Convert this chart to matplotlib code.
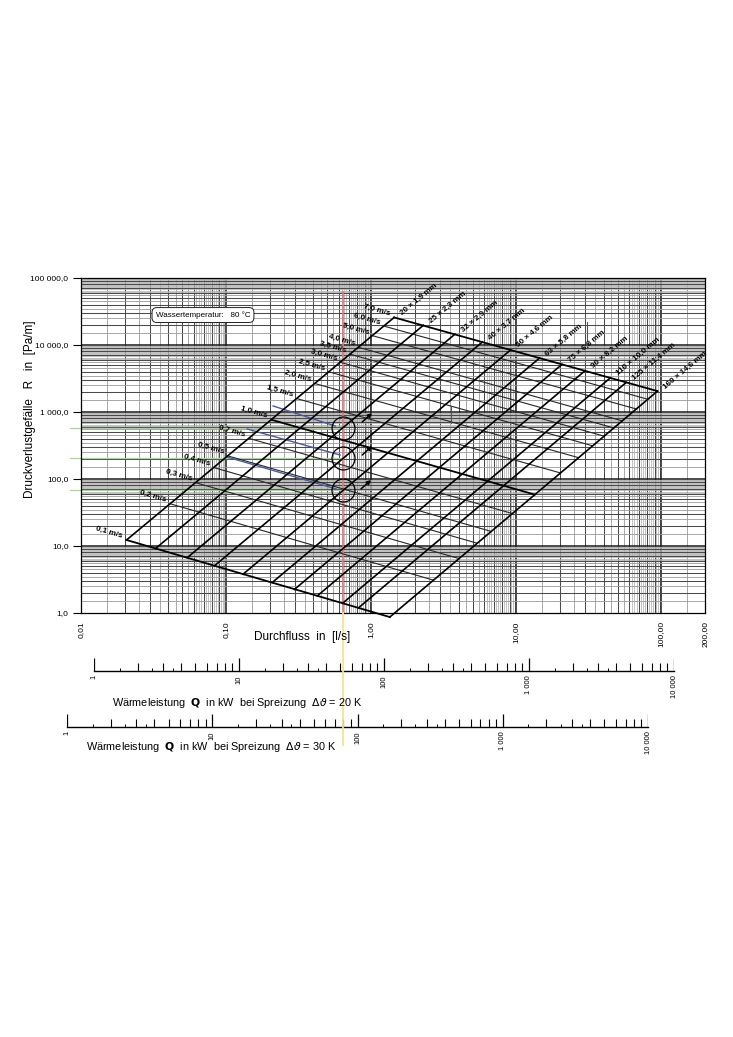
import numpy as np
import matplotlib.pyplot as plt

plt.rcParams['font.family'] = ['Liberation Sans', 'DejaVu Sans']

W, H = 733, 1037

# pipe sizes (PE) and where each pipe line meets 0,1 m/s (low end) and 7,0 m/s (high end)
pipe_labels = ["20 × 1,9 mm", "25 × 2,3 mm", "32 × 2,9 mm", "40 × 3,7 mm", "50 × 4,6 mm",
               "63 × 5,8 mm", "75 × 6,8 mm", "90 × 8,2 mm", "110 × 10,0 mm", "125 × 11,4 mm",
               "160 × 14,6 mm"]
pipe_q_lo = [0.0206, 0.0327, 0.054, 0.0835, 0.131, 0.208, 0.296, 0.425, 0.636, 0.82, 1.344]
pipe_r_lo = [12.3, 9.2, 6.7, 5.1, 3.8, 2.85, 2.25, 1.8, 1.4, 1.2, 0.87]
pipe_q_hi = [1.44, 2.29, 3.78, 5.85, 9.15, 14.5, 20.7, 29.8, 44.5, 57.4, 94.1]
pipe_r_hi = [25800, 19700, 14500, 11100, 8450, 6400, 5150, 4130, 3230, 2770, 2050]

# velocity lines, left end on 20 mm pipe, right end on 160 mm pipe
vel_labels = ["0,1 m/s", "0,2 m/s", "0,3 m/s", "0,4 m/s", "0,5 m/s", "0,7 m/s", "1,0 m/s",
              "1,5 m/s", "2,0 m/s", "2,5 m/s", "3,0 m/s", "3,5 m/s", "4,0 m/s", "5,0 m/s",
              "6,0 m/s", "7,0 m/s"]
vel_q_l = [0.0206, 0.0412, 0.0618, 0.0824, 0.103, 0.144, 0.206, 0.309, 0.412, 0.515,
           0.618, 0.721, 0.824, 1.03, 1.24, 1.44]
vel_r_l = [12.3, 42.7, 88, 148, 221, 404, 765, 1580, 2650, 3960, 5490, 7250, 9200,
           13700, 19000, 25800]
vel_q_r = [1.344, 2.69, 4.03, 5.38, 6.72, 9.41, 13.4, 20.2, 26.9, 33.6, 40.3, 47.0, 53.8,
           67.2, 80.6, 94.1]
vel_r_r = [0.87, 3.09, 6.5, 11.0, 16.5, 30.5, 58.6, 123, 208, 313, 436, 578, 738, 1110,
           1550, 2050]
vel_bold = ["0,1 m/s", "1,0 m/s", "7,0 m/s"]

# axis ticks
x_ticks = [0.01, 0.1, 1, 10, 100, 200]
x_ticklabels = ["0,01", "0,10", "1,00", "10,00", "100,00", "200,00"]
y_ticks = [1, 10, 100, 1000, 10000, 100000]
y_ticklabels = ["1,0", "10,0", "100,0", "1 000,0", "10 000,0", "100 000,0"]

# heat output scales
scale_major = [1, 10, 100, 1000, 10000]
scale_labels = ["1", "10", "100", "1 000", "10 000"]
scale_mid = [2, 3, 4, 5, 6, 7, 8, 9]
scale_small = [1.5, 2.5, 3.5]

# hand-drawn marks
sel_flow = 0.64
sel_r = [577, 206, 68.5]
blue_x0 = [0.211, 0.140, 0.1017]
blue_y0 = [1230, 557, 213]
blue_x1 = [0.565, 0.611, 0.574]
blue_y1 = [618, 228, 71]
arrow_tail = [(0.867, 709), (0.867, 228), (0.85, 71)]
arrow_head = [(1.016, 966), (1.016, 311), (1.0, 96.6)]

fig = plt.figure(figsize=(W / 100, H / 100), dpi=100)
ax = fig.add_axes([81 / W, 1 - 613 / H, (705 - 81) / W, (613 - 278) / H])
ax.set_xscale('log')
ax.set_yscale('log')
ax.set_xlim(0.01, 200)
ax.set_ylim(1, 100000)

# graph paper
def paper(exps, lo, hi, draw):
    for e in exps:
        base = 10.0 ** e
        for k in np.arange(6.25, 10, 0.25):
            v = k * base
            if lo < v < hi:
                draw(v, color='#b2b2b2', lw=0.55, zorder=0)
        for k in [1.5, 2.5, 3.5, 4.5, 5.5]:
            v = k * base
            if lo < v < hi:
                draw(v, color='#9a9a9a', lw=0.6, zorder=0)
        for k in range(2, 10):
            v = k * base
            if lo < v < hi:
                draw(v, color='#4a4a4a', lw=0.75, zorder=0)
        if lo < base < hi:
            draw(base, color='#1a1a1a', lw=1.1, zorder=0)

paper(range(-2, 3), 0.01, 200, ax.axvline)
paper(range(0, 5), 1, 100000, ax.axhline)
for s in ax.spines.values():
    s.set_linewidth(0.9)

ax.set_xticks(x_ticks)
ax.set_xticklabels(x_ticklabels, rotation=90, fontsize=6)
ax.set_yticks(y_ticks)
ax.set_yticklabels(y_ticklabels, fontsize=6)
ax.minorticks_off()
ax.tick_params(axis='x', length=0, pad=6)
ax.tick_params(axis='y', length=6, width=0.8, pad=3)

# nomogram
for i, lab in enumerate(vel_labels):
    bold = lab in vel_bold
    ax.plot([vel_q_l[i], vel_q_r[i]], [vel_r_l[i], vel_r_r[i]],
            color='k' if bold else '#262626', lw=1.3 if bold else 0.8, clip_on=False, zorder=3)
    p1 = ax.transData.transform((vel_q_l[i], vel_r_l[i]))
    p2 = ax.transData.transform((vel_q_r[i], vel_r_r[i]))
    ang = np.degrees(np.arctan2(p2[1] - p1[1], p2[0] - p1[0]))
    ax.annotate(lab, (vel_q_l[i], vel_r_l[i]), xytext=(-3, 2.5), textcoords='offset points',
                ha='right', va='center', rotation=ang, rotation_mode='anchor',
                fontsize=5.8, fontweight='bold', zorder=5)

for i, lab in enumerate(pipe_labels):
    ax.plot([pipe_q_lo[i], pipe_q_hi[i]], [pipe_r_lo[i], pipe_r_hi[i]],
            color='k', lw=1.2, clip_on=False, zorder=4)
    p1 = ax.transData.transform((pipe_q_lo[i], pipe_r_lo[i]))
    p2 = ax.transData.transform((pipe_q_hi[i], pipe_r_hi[i]))
    ang = np.degrees(np.arctan2(p2[1] - p1[1], p2[0] - p1[0]))
    ax.annotate(lab, (pipe_q_hi[i], pipe_r_hi[i]), xytext=(5, 2.5), textcoords='offset points',
                ha='left', va='center', rotation=ang, rotation_mode='anchor',
                fontsize=5.8, fontweight='bold', zorder=5)

# marks for the reading example
ax.plot([sel_flow, sel_flow], [1, 61800], color='#e27878', lw=1.2, zorder=2)
for i in range(3):
    ax.plot([0.0084, sel_flow], [sel_r[i], sel_r[i]], color='#a8d49a', lw=0.9,
            clip_on=False, zorder=2)
    ax.plot([blue_x0[i], blue_x1[i]], [blue_y0[i], blue_y1[i]], color='#4b5a9c', lw=1.0, zorder=3)
    ax.plot(sel_flow, sel_r[i], 'o', mfc='none', mec='k', ms=16.5, mew=0.9, zorder=6)
    ax.annotate('', xy=arrow_head[i], xytext=arrow_tail[i],
                arrowprops=dict(arrowstyle='-|>', color='k', lw=1.1, mutation_scale=6,
                                shrinkA=0, shrinkB=0), zorder=6)
ax.plot([3.56, 3.56], [1188, 685], color='#555555', lw=0.8, zorder=3)
ax.plot([30.9, 30.9], [22000, 11880], color='#555555', lw=0.8, zorder=3)

ax.text(0.0693, 28000, "Wassertemperatur:   80 °C", fontsize=5.8, ha='center', va='center',
        bbox=dict(boxstyle='round,pad=0.45,rounding_size=0.6', fc='white', ec='#222222', lw=0.7),
        zorder=7)

fig.text(302 / W, 1 - 637 / H, "Durchfluss  in  [l/s]", fontsize=8.5, ha='center', va='center')
fig.text(30 / W, 1 - 409 / H, "Druckverlustgefälle   R   in  [Pa/m]", fontsize=8.5,
         ha='center', va='center', rotation=90)

# yellow guide continuing down through the scales
fig.add_artist(plt.Line2D([343 / W, 343 / W], [1 - 613 / H, 1 - 745 / H], color='#f3e58c',
                          lw=1.3, transform=fig.transFigure))


def heat_scale(left_px, right_px, y_px, text, tx, ty):
    sax = fig.add_axes([left_px / W, 1 - y_px / H, (right_px - left_px) / W, 14 / H])
    sax.set_xscale('log')
    sax.set_xlim(1, 10000)
    sax.set_ylim(0, 14)
    sax.patch.set_alpha(0)
    for s in ['top', 'left', 'right']:
        sax.spines[s].set_visible(False)
    sax.spines['bottom'].set_linewidth(1.0)
    sax.set_yticks([])
    sax.set_xticks(scale_major)
    sax.set_xticklabels(scale_labels, rotation=90, fontsize=5.5)
    sax.minorticks_off()
    sax.tick_params(axis='x', length=0, pad=3)
    for m in scale_major:
        sax.vlines(m, 0, 13, color='k', lw=0.9)
        if m < 10000:
            sax.vlines([k * m for k in scale_mid], 0, 8, color='k', lw=0.8)
            sax.vlines([k * m for k in scale_small], 0, 3.5, color='k', lw=0.7)
    fig.text(tx / W, 1 - ty / H, text, fontsize=7.8, ha='left', va='center')


heat_scale(94, 674, 671, r"Wärmeleistung  $\mathbf{Q}$  in kW  bei Spreizung  $\Delta\vartheta$ = 20 K",
           112, 703)
heat_scale(67, 648, 727, r"Wärmeleistung  $\mathbf{Q}$  in kW  bei Spreizung  $\Delta\vartheta$ = 30 K",
           86, 747)

fig.savefig('out.png', dpi=100)
